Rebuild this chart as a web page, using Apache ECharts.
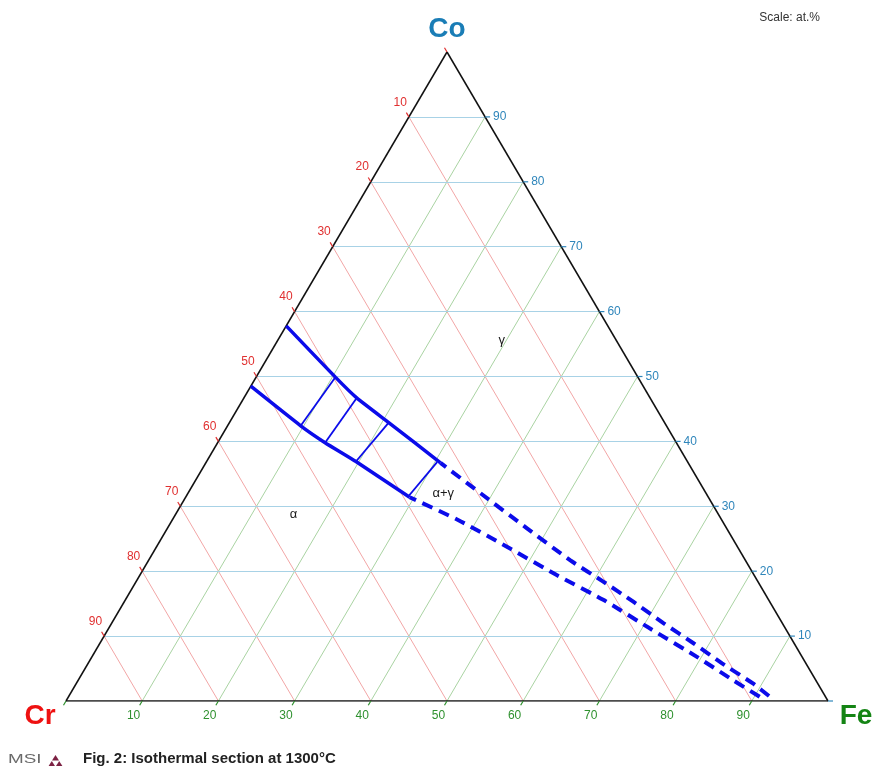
<!DOCTYPE html>
<html>
<head>
<meta charset="utf-8">
<title>Cr-Co-Fe isothermal section at 1300°C</title>
<script src="https://cdn.jsdelivr.net/npm/echarts@6/dist/echarts.min.js"></script>
<style>
  html, body { margin: 0; padding: 0; background: #ffffff; }
  #chart { width: 875px; height: 766px; }
</style>
</head>
<body>
<div id="chart"></div>
<script>
// Composition grid and axis tick values (at.%)
const gridValues = [10, 20, 30, 40, 50, 60, 70, 80, 90];
const tickValues = [0, 10, 20, 30, 40, 50, 60, 70, 80, 90];

// Phase boundaries as [Fe, Co] in at.% (Cr is the balance)
const gammaBoundary = [[0, 57.8], [10.4, 49.9], [14.8, 46.7], [20.9, 42.9], [30.8, 36.7]];
const alphaBoundary = [[0, 48.5], [9.6, 42.4], [14.1, 39.8], [19.6, 36.9], [29.4, 31.4]];
const gammaBoundaryDashed = [[30.8, 36.7], [38.9, 31.7], [47.2, 26.6], [55.3, 21.7], [61.3, 18.4],
  [66.8, 15.3], [72.4, 12.0], [77.9, 8.9], [83.2, 5.8], [88.8, 2.7], [92.3, 0.5]];
const alphaBoundaryDashed = [[29.4, 31.4], [37.5, 27.9], [45.9, 23.8], [54.7, 19.4], [62.7, 15.6],
  [71.0, 11.2], [79.4, 6.8], [85.4, 3.5], [90.8, 0.6]];

// Tie lines across the two-phase field: [alpha end, gamma end] as [Fe, Co]
const tieLines = [
  [[9.6, 42.4], [10.4, 49.9]],
  [[14.1, 39.8], [14.8, 46.7]],
  [[19.6, 36.9], [20.9, 42.9]],
  [[29.2, 31.7], [30.3, 36.8]]
];

// Phase field labels: [text, Fe, Co]
const phaseLabels = [['γ', 29.4, 55.6], ['α+γ', 33.5, 32.0], ['α', 15.5, 28.7]];

// Ternary (Fe, Co) -> cartesian data coordinates of the plot area
function tern(fe, co) { return [fe + co / 2, co]; }

const gridBlue = [], gridRed = [], gridGreen = [];
gridValues.forEach(function (v) {
  gridBlue.push({ coords: [tern(0, v), tern(100 - v, v)] });          // constant Co
  gridRed.push({ coords: [tern(0, 100 - v), tern(100 - v, 0)] });     // constant Cr
  gridGreen.push({ coords: [tern(v, 0), tern(v, 100 - v)] });         // constant Fe
});

const edges = [
  { coords: [tern(0, 0), tern(100, 0)] },
  { coords: [tern(100, 0), tern(0, 100)] },
  { coords: [tern(0, 100), tern(0, 0)] }
];

const BLUE = '#0b0bea';
const FONT = 'Liberation Sans, Arial, sans-serif';

// Axis ticks with labels drawn outward along the grid-line direction
function axisTicks(name, points, dirFn, color, labelFn) {
  return {
    type: 'custom',
    name: name,
    coordinateSystem: 'cartesian2d',
    silent: true,
    z: 6,
    data: points,
    renderItem: function (params, api) {
      const p = api.coord([api.value(0), api.value(1)]);
      const d = dirFn(api);
      const len = 5;
      const lab = labelFn(api.value(2), p, d);
      const children = [{
        type: 'line',
        shape: { x1: p[0], y1: p[1], x2: p[0] + d[0] * len, y2: p[1] + d[1] * len },
        style: { stroke: color, lineWidth: 1.2 }
      }];
      if (api.value(2) > 0) {
        children.push({
          type: 'text',
          x: lab.x, y: lab.y,
          style: {
            text: String(api.value(2)), fill: color, font: '12px ' + FONT,
            align: lab.align, verticalAlign: 'middle'
          }
        });
      }
      return { type: 'group', children: children };
    }
  };
}

function unit(a, b) {
  const dx = b[0] - a[0], dy = b[1] - a[1];
  const l = Math.sqrt(dx * dx + dy * dy);
  return [dx / l, dy / l];
}

const crTickData = tickValues.map(function (v) { const t = tern(0, 100 - v); return [t[0], t[1], v]; });
const coTickData = tickValues.map(function (v) { const t = tern(100 - v, v); return [t[0], t[1], v]; });
const feTickData = tickValues.map(function (v) { const t = tern(v, 0); return [t[0], t[1], v]; });

const chart = echarts.init(document.getElementById('chart'), null, { renderer: 'canvas' });

chart.setOption({
  animation: false,
  backgroundColor: '#ffffff',
  grid: { left: 66, right: 47, top: 52, bottom: 65 },
  xAxis: { type: 'value', min: 0, max: 100, show: false },
  yAxis: { type: 'value', min: 0, max: 100, show: false },
  graphic: [
    {
      type: 'text', right: 55, top: 12,
      style: { text: 'Scale: at.%', fill: '#333333', font: '12px ' + FONT }
    },
    {
      type: 'text', x: 8, y: 753, scaleX: 1.45,
      style: { text: 'MSI', fill: '#6a6a6a', font: '13px ' + FONT }
    },
    {
      type: 'group', x: 48, y: 755,
      children: [
        { type: 'polygon', shape: { points: [[7.5, 0], [11, 5.5], [4, 5.5]] }, style: { fill: '#7c2143' } },
        { type: 'polygon', shape: { points: [[3.8, 6], [7.3, 11.5], [0.3, 11.5]] }, style: { fill: '#7c2143' } },
        { type: 'polygon', shape: { points: [[11.2, 6], [14.7, 11.5], [7.7, 11.5]] }, style: { fill: '#7c2143' } }
      ]
    },
    {
      type: 'text', x: 83, y: 751,
      style: { text: 'Fig. 2: Isothermal section at 1300°C', fill: '#222222', font: 'bold 15px ' + FONT }
    }
  ],
  series: [
    {
      type: 'lines', coordinateSystem: 'cartesian2d', silent: true, z: 1,
      data: gridRed, lineStyle: { color: '#f2a6a6', width: 1, opacity: 1 }
    },
    {
      type: 'lines', coordinateSystem: 'cartesian2d', silent: true, z: 1,
      data: gridGreen, lineStyle: { color: '#a9d3a2', width: 1, opacity: 1 }
    },
    {
      type: 'lines', coordinateSystem: 'cartesian2d', silent: true, z: 1,
      data: gridBlue, lineStyle: { color: '#a8d2e6', width: 1, opacity: 1 }
    },
    {
      type: 'lines', coordinateSystem: 'cartesian2d', silent: true, z: 3,
      data: edges, lineStyle: { color: '#111111', width: 1.5, opacity: 1 }
    },
    axisTicks('Cr', crTickData,
      function (api) { return unit(api.coord(tern(100, 0)), api.coord(tern(0, 100))); },
      '#e03030',
      function (v, p, d) { return { x: p[0] + d[0] * 17, y: p[1] + d[1] * 17, align: 'center' }; }),
    axisTicks('Co', coTickData,
      function () { return [1, 0]; },
      '#2f86bb',
      function (v, p) { return { x: p[0] + 8, y: p[1], align: 'left' }; }),
    axisTicks('Fe', feTickData,
      function (api) { return unit(api.coord(tern(0, 100)), api.coord(tern(0, 0))); },
      '#2f912f',
      function (v, p, d) { return { x: p[0] + d[0] * 17, y: p[1] + d[1] * 17, align: 'center' }; }),
    {
      type: 'lines', coordinateSystem: 'cartesian2d', silent: true, z: 4,
      data: tieLines.map(function (t) { return { coords: [tern(t[0][0], t[0][1]), tern(t[1][0], t[1][1])] }; }),
      lineStyle: { color: BLUE, width: 1.8, opacity: 1 }
    },
    {
      type: 'line', name: 'gamma', z: 5, silent: true, showSymbol: false, smooth: 0.15,
      data: gammaBoundary.map(function (p) { return tern(p[0], p[1]); }),
      lineStyle: { color: BLUE, width: 3.5, cap: 'butt' }
    },
    {
      type: 'line', name: 'alpha', z: 5, silent: true, showSymbol: false, smooth: 0.15,
      data: alphaBoundary.map(function (p) { return tern(p[0], p[1]); }),
      lineStyle: { color: BLUE, width: 3.5, cap: 'butt' }
    },
    {
      type: 'line', name: 'gamma-dashed', z: 5, silent: true, showSymbol: false, smooth: 0.2,
      data: gammaBoundaryDashed.map(function (p) { return tern(p[0], p[1]); }),
      lineStyle: { color: BLUE, width: 4, type: [11, 7], dashOffset: 4 }
    },
    {
      type: 'line', name: 'alpha-dashed', z: 5, silent: true, showSymbol: false, smooth: 0.2,
      data: alphaBoundaryDashed.map(function (p) { return tern(p[0], p[1]); }),
      lineStyle: { color: BLUE, width: 4, type: [11, 7], dashOffset: 4 }
    },
    {
      type: 'scatter', silent: true, z: 7, symbolSize: 0,
      itemStyle: { opacity: 1 },
      data: phaseLabels.map(function (l) { return { value: tern(l[1], l[2]), name: l[0] }; }),
      label: {
        show: true, position: 'inside', formatter: '{b}', opacity: 1,
        color: '#1a1a1a', fontFamily: FONT, fontSize: 13
      }
    },
    {
      type: 'scatter', silent: true, z: 7, symbolSize: 0,
      itemStyle: { opacity: 1 },
      data: [
        { value: tern(0, 100), name: 'Co', label: { color: '#1a7db6', offset: [0, -23] } },
        { value: tern(0, 0), name: 'Cr', label: { color: '#ee1111', offset: [-26, 15] } },
        { value: tern(100, 0), name: 'Fe', label: { color: '#148414', offset: [28, 15] } }
      ],
      label: {
        show: true, position: 'inside', formatter: '{b}', opacity: 1,
        fontFamily: FONT, fontSize: 28, fontWeight: 'bold'
      }
    }
  ]
});
</script>
</body>
</html>
